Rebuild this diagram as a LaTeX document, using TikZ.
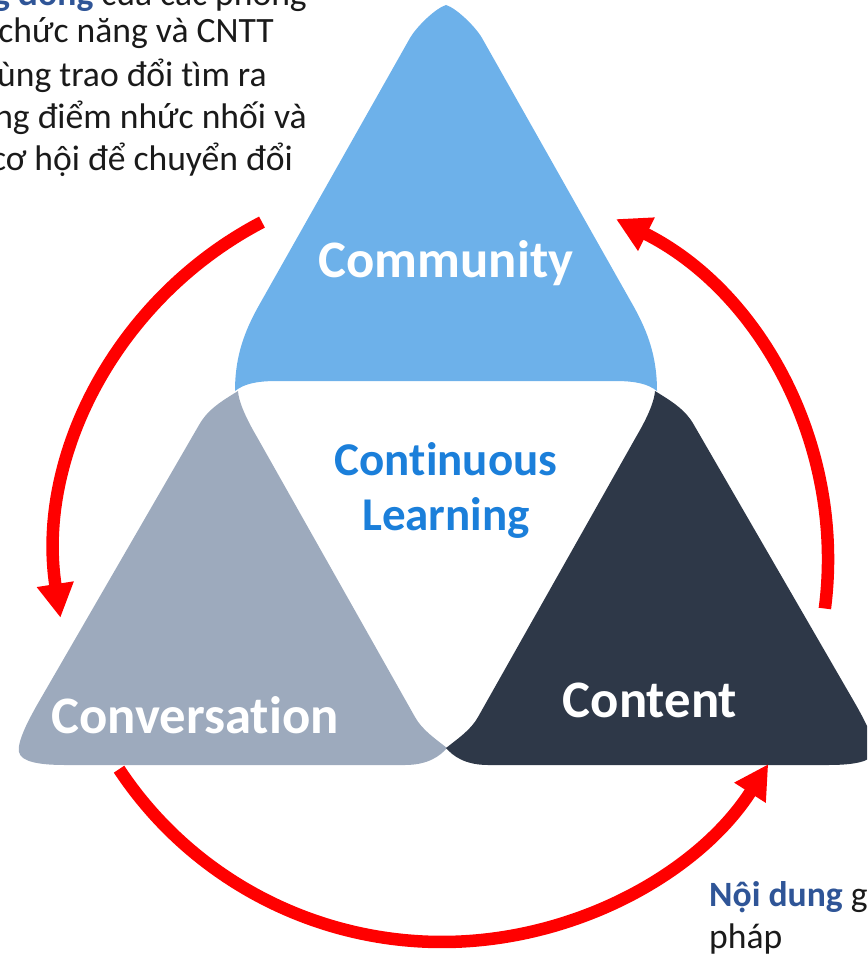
\documentclass[tikz,border=0pt]{standalone}
\usepackage{fontspec}
\setmainfont{Carlito}[Ligatures={NoCommon,NoDiscretionary}]
\usetikzlibrary{arrows.meta}
\definecolor{commblue}{RGB}{109,177,234}
\definecolor{convgrey}{RGB}{157,170,189}
\definecolor{contdark}{RGB}{46,56,72}
\definecolor{learnblue}{RGB}{27,127,218}
\definecolor{keyblue}{RGB}{47,85,151}
\definecolor{txt}{RGB}{26,26,26}
\definecolor{arrowred}{RGB}{255,0,0}
\begin{document}
\begin{tikzpicture}[x=1pt,y=1pt,
  cycarrow/.style={draw=arrowred, line width=12.5pt, -{Triangle[length=34pt,width=35pt]}},
  biglabel/.style={text=white, font=\fontsize{52.7}{60}\selectfont\bfseries, anchor=base, inner sep=0pt},
  centrelabel/.style={text=learnblue, font=\fontsize{47}{55}\selectfont\bfseries, anchor=base, inner sep=0pt},
  bodyline/.style={text=txt, font=\fontsize{35.6}{43}\selectfont, inner sep=0pt, anchor=base east},
  noteline/.style={text=txt, font=\fontsize{35.6}{43}\selectfont, inner sep=0pt, anchor=base west}
]
\useasboundingbox (0,0) rectangle (867,-957);
\clip (0,0) rectangle (867,-957);
% Community (blue)
\fill[commblue] (235,-391) .. controls (235,-352) and (247,-326) .. (262,-300)
  -- (410,-38) .. controls (417,-26) and (436,-8) .. (446,-5)
  .. controls (456,-8) and (475,-26) .. (482,-38)
  -- (630,-300) .. controls (645,-326) and (657,-352) .. (657,-391)
  .. controls (648,-384) and (636,-381) .. (615,-381)
  -- (277,-381) .. controls (256,-381) and (244,-384) .. cycle;
% Conversation (grey)
\fill[convgrey] (238,-391) .. controls (222,-401) and (208,-409) .. (199,-425)
  -- (37,-705) .. controls (28,-721) and (17,-742) .. (19,-752)
  .. controls (21,-762) and (40,-765) .. (65,-765)
  -- (405,-765) .. controls (428,-765) and (440,-756) .. (447,-748)
  .. controls (437,-740) and (422,-730) .. (415,-717)
  -- (257,-437) .. controls (250,-425) and (239,-405) .. cycle;
% Content (dark)
\fill[contdark] (655,-391) .. controls (671,-401) and (685,-409) .. (694,-425)
  -- (856,-705) .. controls (865,-721) and (876,-742) .. (874,-752)
  .. controls (872,-762) and (853,-765) .. (828,-765)
  -- (488,-765) .. controls (465,-765) and (453,-756) .. (446,-748)
  .. controls (456,-740) and (471,-730) .. (478,-717)
  -- (636,-437) .. controls (643,-425) and (654,-405) .. cycle;
% labels
\node[biglabel] (community) at (446,-277) {Community};
\node[centrelabel] (contin) at (446,-475) {Continuous};
\node[centrelabel] (learning) at (446,-530) {Learning};
\node[biglabel] (conversation) at (195,-733) {Conversation};
\node[biglabel] (content) at (650,-717) {Content};
% cycle arrows
\coordinate (hub) at (442,-560);
\draw[cycarrow] (hub) ++(117.8:386pt and 382pt) arc[start angle=117.8, end angle=188.7, x radius=386pt, y radius=382pt];
\draw[cycarrow] (hub) ++(213.2:386pt and 382pt) arc[start angle=213.2, end angle=327.7, x radius=386pt, y radius=382pt];
\draw[cycarrow] (hub) ++(-7.3:386pt and 382pt) arc[start angle=-7.3, end angle=63.2, x radius=386pt, y radius=382pt];
% top-left note
\node[bodyline] (p1) at (307,-6) {\textcolor{keyblue}{\bfseries Cộng đồng} của các phòng};
\node[bodyline] (p2) at (274,-43) {chức năng và CNTT};
\node[bodyline] (p3) at (267,-87) {cùng trao đổi tìm ra};
\node[bodyline] (p4) at (307,-129) {những điểm nhức nhối và};
\node[bodyline] (p5) at (293,-171) {cơ hội để chuyển đổi};
% bottom-right note
\node[noteline] (q1) at (709,-906) {\textcolor{keyblue}{\bfseries Nội dung} giải};
\node[noteline] (q2) at (709,-948) {pháp};
\end{tikzpicture}
\end{document}
